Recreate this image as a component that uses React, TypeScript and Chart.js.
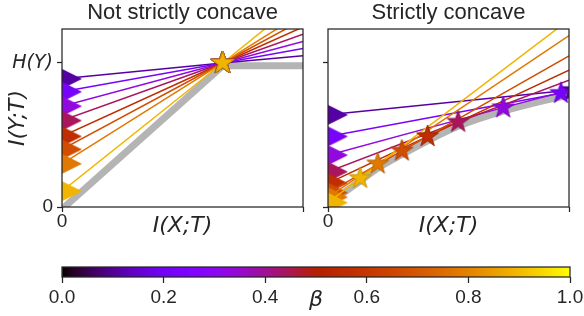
import React, { useEffect, useRef } from 'react';
import { Chart, registerables } from 'chart.js';

Chart.register(...registerables);

// ---------- data ----------
const BETAS = [0.11, 0.22, 0.33, 0.44, 0.56, 0.67, 0.78, 0.89];
const X_MAX = 1.5;
const Y_MAX = 1.236;
const H_Y = 1;
const X_TICKS = [0, X_MAX];
const Y_TICKS = [0, H_Y];
const CB_TICKS = [0, 0.2, 0.4, 0.6, 0.8, 1.0];

// left panel: "Not strictly concave"
const LEFT_INTERCEPTS = [0.89, 0.8, 0.7, 0.6, 0.49, 0.4, 0.3, 0.11];
const LEFT_STAR_X = [1, 1, 1, 1, 1, 1, 1, 1];
const LEFT_STAR_Y = [1, 1, 1, 1, 1, 1, 1, 1];
const LEFT_END_Y = [1.05, 1.1, 1.15, 1.2, 1.25, 1.3, 1.35, 1.45];
const LEFT_BOUND_X = [0, 1, 1.5];
const LEFT_BOUND_Y = [-0.015, 0.98, 0.98];

// right panel: "Strictly concave"
const RIGHT_INTERCEPTS = [0.64, 0.49, 0.36, 0.245, 0.165, 0.1, 0.068, 0.03];
const RIGHT_STAR_X = [1.52, 1.45, 1.09, 0.81, 0.62, 0.46, 0.31, 0.2];
const RIGHT_STAR_Y = [0.81, 0.79, 0.69, 0.59, 0.49, 0.39, 0.3, 0.2];
const RIGHT_END_Y = [0.81, 0.8, 0.81, 0.88, 0.95, 1.05, 1.19, 1.3];
const RIGHT_BOUND_X = [0, 0.1, 0.2, 0.31, 0.46, 0.62, 0.81, 1.09, 1.45, 1.5];
const RIGHT_BOUND_Y = [0, 0.1, 0.18, 0.27, 0.365, 0.46, 0.56, 0.665, 0.765, 0.775];

// ---------- styling helpers ----------
const INK = '#262626';
const SANS = "'Liberation Sans', Arial, sans-serif";
const MATH = "'DejaVu Sans', sans-serif";

function gnuplotRGB(t: number): number[] {
  const r = Math.sqrt(t);
  const g = t * t * t;
  const b = Math.max(0, Math.sin(2 * Math.PI * t));
  return [Math.round(255 * r), Math.round(255 * g), Math.round(255 * b)];
}
function gnuplot(t: number, k = 1): string {
  const [r, g, b] = gnuplotRGB(t);
  return `rgb(${Math.round(r * k)},${Math.round(g * k)},${Math.round(b * k)})`;
}

function makeStar(fill: string, stroke: string, R: number): HTMLCanvasElement {
  const c = document.createElement('canvas');
  const s = Math.ceil(2 * R + 4);
  c.width = s;
  c.height = s;
  const ctx = c.getContext('2d')!;
  ctx.translate(s / 2, s / 2);
  ctx.beginPath();
  for (let k = 0; k < 10; k++) {
    const rr = k % 2 === 0 ? R : R * 0.382;
    const a = -Math.PI / 2 + (k * Math.PI) / 5;
    const px = rr * Math.cos(a);
    const py = rr * Math.sin(a);
    if (k === 0) ctx.moveTo(px, py);
    else ctx.lineTo(px, py);
  }
  ctx.closePath();
  ctx.fillStyle = fill;
  ctx.fill();
  ctx.lineWidth = 1;
  ctx.strokeStyle = stroke;
  ctx.stroke();
  return c;
}

function makeTriangle(fill: string, half: number): HTMLCanvasElement {
  const c = document.createElement('canvas');
  c.width = 2 * half;
  c.height = 2 * half;
  const ctx = c.getContext('2d')!;
  ctx.beginPath();
  ctx.moveTo(0, 0);
  ctx.lineTo(2 * half, half);
  ctx.lineTo(0, 2 * half);
  ctx.closePath();
  ctx.fillStyle = fill;
  ctx.fill();
  return c;
}

const framePlugin = {
  id: 'frame',
  afterDraw(chart: any) {
    const { ctx, chartArea: a } = chart;
    ctx.save();
    ctx.strokeStyle = INK;
    ctx.lineWidth = 1.25;
    ctx.strokeRect(a.left, a.top, a.right - a.left, a.bottom - a.top);
    ctx.restore();
  },
};

type PanelSpec = {
  title: string;
  yWidth: number;
  padRight: number;
  yLabels: boolean;
  intercepts: number[];
  starX: number[];
  starY: number[];
  endY: number[];
  boundX: number[];
  boundY: number[];
  curved: boolean;
  starR: number;
};

function panelConfig(p: PanelSpec): any {
  const datasets: any[] = [];
  // grey bound
  datasets.push({
    data: p.boundX.map((x, i) => ({ x, y: p.boundY[i] })),
    showLine: true,
    borderColor: '#b4b4b4',
    borderWidth: 7,
    pointRadius: 0,
    tension: p.curved ? 0.4 : 0,
    cubicInterpolationMode: p.curved ? 'monotone' : 'default',
    borderJoinStyle: 'miter',
    order: 100,
    clip: 0,
  });
  // lines with triangles
  BETAS.forEach((b, i) => {
    const pts = [
      { x: 0, y: p.intercepts[i] },
      { x: p.starX[i], y: p.starY[i] },
      { x: X_MAX, y: p.endY[i] },
    ].sort((a, c) => a.x - c.x);
    const tri = makeTriangle(gnuplot(b), 20);
    datasets.push({
      data: pts,
      showLine: true,
      borderColor: gnuplot(b),
      borderWidth: 1.5,
      tension: 0,
      pointStyle: tri,
      pointRadius: (c: any) => (c.raw && c.raw.x === 0 ? 20 : 0),
      pointBorderWidth: 0,
      order: 50 - i,
      clip: 0,
    });
  });
  // stars
  datasets.push({
    data: p.starX.map((x, i) => ({ x, y: p.starY[i] })),
    showLine: false,
    pointStyle: BETAS.map((b) => makeStar(gnuplot(b), gnuplot(b, 0.82), p.starR)),
    pointRadius: 16,
    pointBorderWidth: 0,
    order: 0,
    clip: 0,
  });

  return {
    type: 'scatter',
    data: { datasets },
    options: {
      responsive: false,
      animation: false,
      devicePixelRatio: 1,
      events: [],
      layout: { autoPadding: false, padding: { left: 0, right: p.padRight, top: 0, bottom: 0 } },
      plugins: {
        legend: { display: false },
        tooltip: { enabled: false },
        title: {
          display: true,
          text: p.title,
          color: INK,
          fullSize: false,
          font: { family: SANS, size: 22, weight: 'normal' },
          padding: { top: 0, bottom: 2.6 },
        },
      },
      scales: {
        x: {
          type: 'linear',
          min: 0,
          max: X_MAX,
          bounds: 'data',
          afterBuildTicks: (s: any) => {
            s.ticks = X_TICKS.map((v) => ({ value: v }));
          },
          afterFit: (s: any) => {
            s.height = 33;
            s.paddingLeft = 0;
            s.paddingRight = 0;
          },
          ticks: {
            autoSkip: false,
            maxRotation: 0,
            padding: -2,
            color: INK,
            font: { family: SANS, size: 19 },
            callback: (v: any) => (v === 0 ? '0' : ''),
          },
          grid: {
            drawOnChartArea: false,
            drawTicks: true,
            tickLength: 5,
            tickColor: INK,
            tickWidth: 1.25,
          },
          border: { display: false },
          title: {
            display: true,
            text: 'I(X;T)',
            color: INK,
            font: { family: MATH, size: 22, style: 'italic' },
            padding: { top: 0, bottom: 1 },
          },
        },
        y: {
          type: 'linear',
          min: 0,
          max: Y_MAX,
          bounds: 'data',
          afterBuildTicks: (s: any) => {
            s.ticks = Y_TICKS.map((v) => ({ value: v }));
          },
          afterFit: (s: any) => {
            s.width = p.yWidth;
          },
          ticks: {
            autoSkip: false,
            padding: 4,
            color: INK,
            font: (c: any) =>
              c.tick && c.tick.value === H_Y
                ? { family: MATH, size: 19, style: 'italic' }
                : { family: SANS, size: 19 },
            callback: (v: any) => (p.yLabels ? (v === 0 ? '0' : 'H(Y)') : ''),
          },
          grid: {
            drawOnChartArea: false,
            drawTicks: true,
            tickLength: 5,
            tickColor: INK,
            tickWidth: 1.25,
          },
          border: { display: false },
          title: {
            display: p.yLabels,
            text: 'I(Y;T)',
            color: INK,
            font: { family: MATH, size: 22, style: 'italic' },
            padding: { top: 5, bottom: 0 },
          },
        },
      },
    },
    plugins: [framePlugin],
  };
}

function colorbarConfig(): any {
  return {
    type: 'bar',
    data: {
      labels: [''],
      datasets: [
        {
          data: [[0, 1]],
          backgroundColor: (c: any) => {
            const ch = c.chart;
            const a = ch.chartArea;
            if (!a) return '#000';
            const g = ch.ctx.createLinearGradient(a.left, 0, a.right, 0);
            const n = 64;
            for (let i = 0; i <= n; i++) g.addColorStop(i / n, gnuplot(i / n));
            return g;
          },
          borderWidth: 0,
          borderSkipped: false,
          barPercentage: 1,
          categoryPercentage: 1,
        },
      ],
    },
    options: {
      indexAxis: 'y',
      responsive: false,
      animation: false,
      devicePixelRatio: 1,
      events: [],
      layout: { autoPadding: false, padding: { left: 62, right: 14, top: 17, bottom: 0 } },
      plugins: { legend: { display: false }, tooltip: { enabled: false } },
      scales: {
        y: { display: false },
        x: {
          type: 'linear',
          min: 0,
          max: 1,
          bounds: 'data',
          afterBuildTicks: (s: any) => {
            s.ticks = CB_TICKS.map((v) => ({ value: v }));
          },
          afterFit: (s: any) => {
            s.height = 39;
            s.paddingLeft = 0;
            s.paddingRight = 0;
          },
          ticks: {
            autoSkip: false,
            maxRotation: 0,
            padding: 3,
            color: INK,
            font: { family: SANS, size: 19 },
            callback: (v: any) => Number(v).toFixed(1),
          },
          grid: {
            drawOnChartArea: false,
            drawTicks: true,
            tickLength: 6,
            tickColor: INK,
            tickWidth: 1.25,
          },
          border: { display: false },
          title: {
            display: true,
            text: 'β',
            color: INK,
            font: { family: MATH, size: 22, style: 'italic' },
            padding: { top: 0, bottom: 3 },
          },
        },
      },
    },
    plugins: [framePlugin],
  };
}

export default function App() {
  const leftRef = useRef<HTMLCanvasElement>(null);
  const rightRef = useRef<HTMLCanvasElement>(null);
  const cbRef = useRef<HTMLCanvasElement>(null);

  useEffect(() => {
    const charts: Chart[] = [];
    charts.push(
      new Chart(
        leftRef.current!,
        panelConfig({
          title: 'Not strictly concave',
          yWidth: 62,
          padRight: 3,
          yLabels: true,
          intercepts: LEFT_INTERCEPTS,
          starX: LEFT_STAR_X,
          starY: LEFT_STAR_Y,
          endY: LEFT_END_Y,
          boundX: LEFT_BOUND_X,
          boundY: LEFT_BOUND_Y,
          curved: false,
          starR: 12,
        })
      )
    );
    charts.push(
      new Chart(
        rightRef.current!,
        panelConfig({
          title: 'Strictly concave',
          yWidth: 22,
          padRight: 15,
          yLabels: false,
          intercepts: RIGHT_INTERCEPTS,
          starX: RIGHT_STAR_X,
          starY: RIGHT_STAR_Y,
          endY: RIGHT_END_Y,
          boundX: RIGHT_BOUND_X,
          boundY: RIGHT_BOUND_Y,
          curved: true,
          starR: 11.5,
        })
      )
    );
    charts.push(new Chart(cbRef.current!, colorbarConfig()));
    return () => charts.forEach((c) => c.destroy());
  }, []);

  return (
    <div style={{ position: 'absolute', left: 0, top: 0, width: 584, height: 316, background: '#fff' }}>
      <canvas ref={leftRef} width={306} height={240} style={{ position: 'absolute', left: 0, top: 0 }} />
      <canvas ref={rightRef} width={278} height={240} style={{ position: 'absolute', left: 306, top: 0 }} />
      <canvas ref={cbRef} width={584} height={66} style={{ position: 'absolute', left: 0, top: 250 }} />
    </div>
  );
}
